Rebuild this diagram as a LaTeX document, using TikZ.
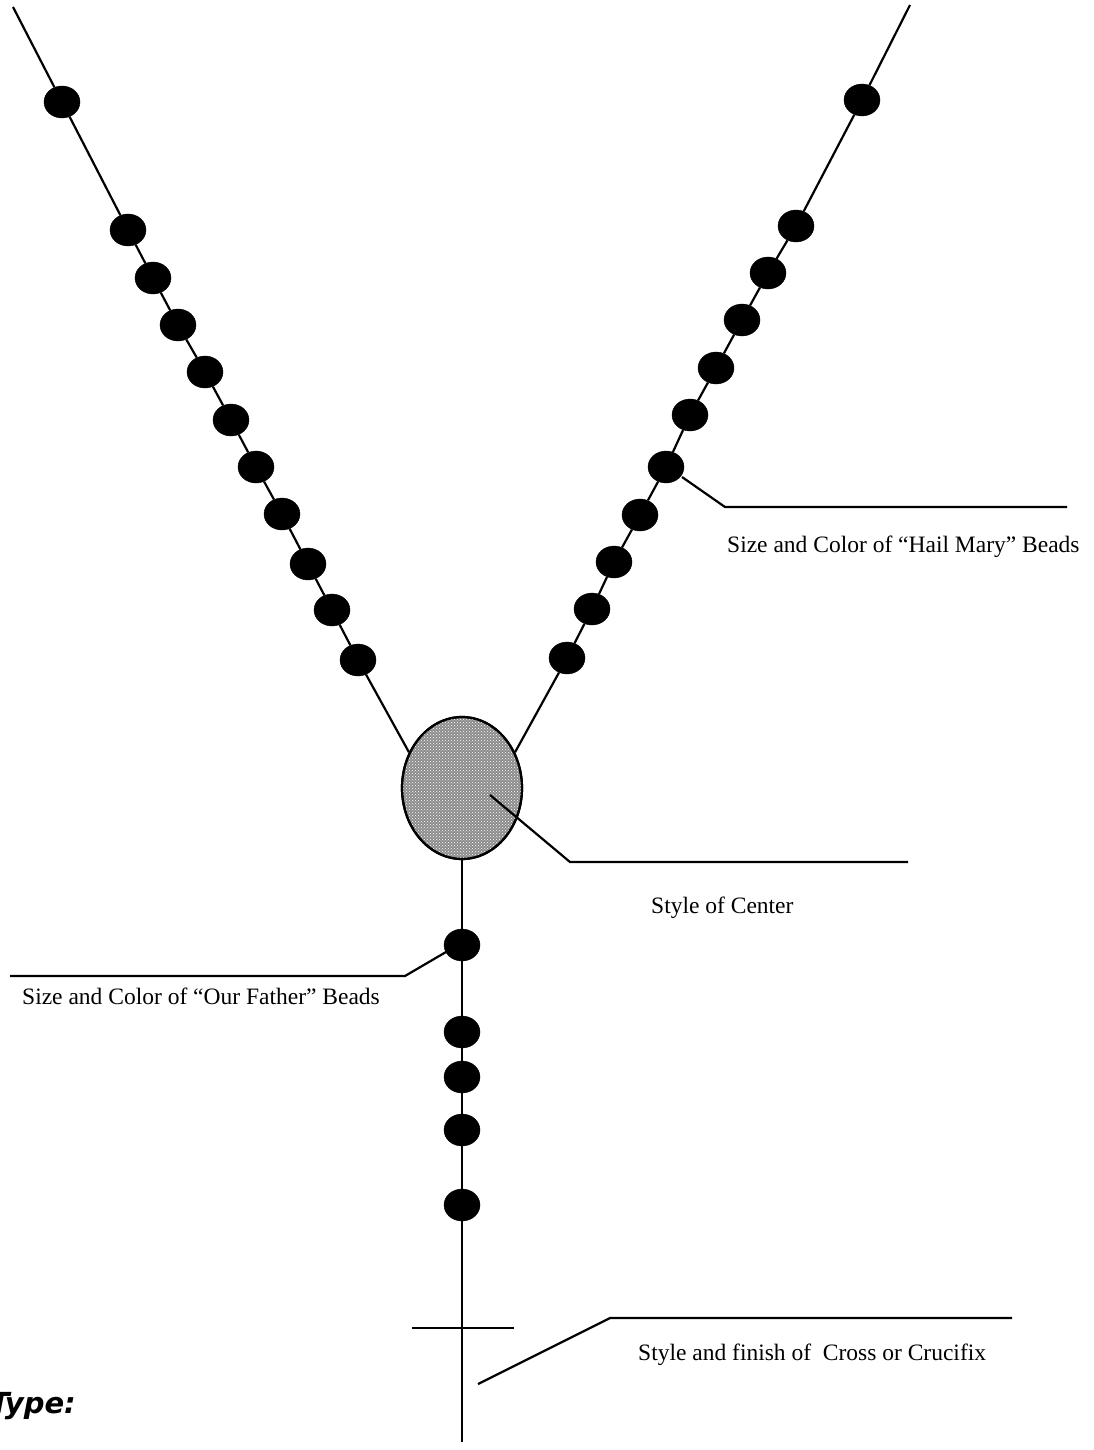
\documentclass[tikz,border=0pt]{standalone}
\usepackage{fontspec}
\setmainfont{Liberation Serif}
\newfontfamily\typefont{DejaVu Sans}
\usetikzlibrary{shapes.geometric,patterns}
\begin{document}
\begin{tikzpicture}[x=1pt,y=-1pt,
  bead/.style={ellipse,fill=black,draw=black,minimum width=36pt,minimum height=32pt,inner sep=0pt},
  strand/.style={line width=2.2pt,black},
  leader/.style={line width=2.2pt,black},
  lbl/.style={font=\fontsize{23.5}{26}\selectfont,inner sep=0pt,anchor=base west}]
\useasboundingbox (0,0) rectangle (1093,1450);
% center
\node[ellipse,draw=black,line width=2.2pt,fill=black!45,minimum width=120pt,minimum height=142pt,inner sep=0pt] (center) at (462,788) {};
\fill[pattern=crosshatch dots,pattern color=white] (462,788) ellipse [x radius=59pt,y radius=70pt];
\draw[line width=2.2pt] (462,788) ellipse [x radius=60pt,y radius=71pt];
% left strand
\coordinate (topL) at (13,7);
\foreach \i/\x/\y in {1/62/102,2/128/230,3/153/278,4/178/325,5/205/372,6/231/420,7/256/467,8/282/514,9/308/564,10/332/610,11/358/660}
  \node[bead] (l\i) at (\x,\y) {};
\draw[strand] (topL) -- (l1) -- (l2) -- (l3) -- (l4) -- (l5) -- (l6) -- (l7) -- (l8) -- (l9) -- (l10) -- (l11) -- (center.146);
% right strand
\coordinate (topR) at (910,5);
\foreach \i/\x/\y in {1/862/100,2/796/226,3/768/273,4/742/320,5/716/368,6/690/415,7/666/467,8/640/515,9/614/562,10/592/609,11/567/658}
  \node[bead] (r\i) at (\x,\y) {};
\draw[strand] (topR) -- (r1) -- (r2) -- (r3) -- (r4) -- (r5) -- (r6) -- (r7) -- (r8) -- (r9) -- (r10) -- (r11) -- (center.34);
% pendant
\coordinate (bottom) at (462,1442);
\foreach \i/\y in {1/945,2/1032,3/1077,4/1130,5/1205}
  \node[bead] (p\i) at (462,\y) {};
\draw[strand] (center) -- (p1) -- (p2) -- (p3) -- (p4) -- (p5) -- (bottom);
% cross bar
\coordinate (barL) at (412,1328);
\coordinate (barR) at (514,1328);
\draw[strand] (barL) -- (barR);
% leaders
\coordinate (hmA) at (682,477);
\coordinate (hmB) at (725,507);
\coordinate (hmC) at (1067,507);
\draw[leader] (hmA) -- (hmB) -- (hmC);
\node[lbl] (hmT) at (727,552) {Size and Color of “Hail Mary” Beads};
\coordinate (cA) at (490,795);
\coordinate (cB) at (570,862);
\coordinate (cC) at (908,862);
\draw[leader] (cA) -- (cB) -- (cC);
\node[lbl] (cT) at (651,913) {Style of Center};
\coordinate (ofA) at (446,952);
\coordinate (ofB) at (405,976);
\coordinate (ofC) at (10,976);
\draw[leader] (ofA) -- (ofB) -- (ofC);
\node[lbl] (ofT) at (22,1004) {Size and Color of “Our Father” Beads};
\coordinate (crA) at (478,1384);
\coordinate (crB) at (610,1318);
\coordinate (crC) at (1012,1318);
\draw[leader] (crA) -- (crB) -- (crC);
\node[lbl] (crT) at (638,1360) {Style and finish of\ \ Cross or Crucifix};
% Type:
\node[font=\typefont\bfseries\itshape\fontsize{29}{31}\selectfont,inner sep=0pt,anchor=base east] (typeT) at (76,1413) {Type:};
\end{tikzpicture}
\end{document}
